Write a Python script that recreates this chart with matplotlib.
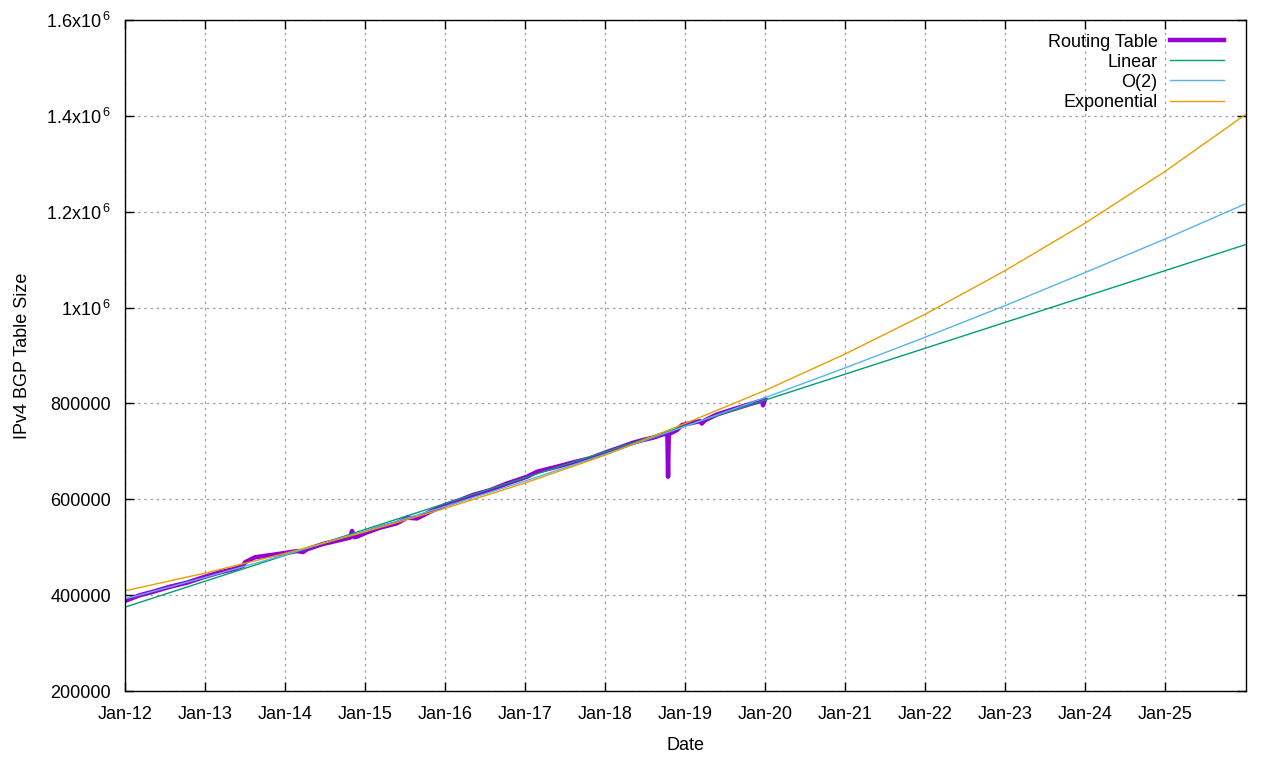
import numpy as np
import pandas as pd
import matplotlib
matplotlib.use('Agg')
import matplotlib.pyplot as plt
import matplotlib.dates as mdates

plt.rcParams['font.family'] = ['Liberation Sans', 'DejaVu Sans']
plt.rcParams['font.size'] = 13
plt.rcParams['mathtext.fontset'] = 'custom'
plt.rcParams['mathtext.rm'] = 'Liberation Sans'

# routing table size (decimal year, entries in thousands)
rt_years = [2012.000, 2012.188, 2012.350, 2012.563, 2012.775, 2013.000, 2013.188,
            2013.350, 2013.475, 2013.500, 2013.625, 2013.838, 2014.025, 2014.150,
            2014.225, 2014.275, 2014.475, 2014.688, 2014.813, 2014.838, 2014.863,
            2014.900, 2015.025, 2015.188, 2015.400, 2015.525, 2015.650, 2015.813,
            2016.000, 2016.188, 2016.350, 2016.563, 2016.775, 2017.025, 2017.150,
            2017.400, 2017.600, 2017.813, 2018.025, 2018.150, 2018.350, 2018.475,
            2018.600, 2018.725, 2018.780, 2018.788, 2018.797, 2018.900, 2018.963,
            2019.188, 2019.210, 2019.250, 2019.400, 2019.600, 2019.813, 2019.963,
            2019.975, 2020.000]
rt_size = [388, 400, 407, 417.6, 426, 438.5, 447.6,
           454, 461, 468.5, 479, 484, 488.6, 492,
           490, 495.6, 506.7, 515, 520, 534, 521,
           522, 531, 540.7, 550, 561.6, 560, 574,
           588, 598.5, 609, 619, 633, 647, 657.5,
           668, 677, 685.5, 699, 706, 718, 723.7,
           728.5, 735.5, 736, 647, 736, 744.5, 755,
           763, 758, 765, 777, 787.7, 798.7, 806,
           796, 808]

# fitted curves, read at each January (thousands)
fit_years = list(range(2012, 2027))
linear = [375, 429, 483, 537, 591, 645, 699, 753, 807, 861, 915, 969, 1023, 1077, 1131]
order2 = [392, 437, 484, 534, 585, 638, 694, 752, 812, 874, 938, 1004, 1073, 1143, 1216]
expo = [409, 446, 487, 532, 581, 634, 692, 758, 827, 903, 986, 1077, 1176, 1284, 1402]

tick_years = list(range(2012, 2026))
y_ticks = [200000, 400000, 600000, 800000, 1000000, 1200000, 1400000, 1600000]
y_labels = ['200000', '400000', '600000', '800000',
            r'1x10$^{\,6}$', r'1.2x10$^{\,6}$', r'1.4x10$^{\,6}$', r'1.6x10$^{\,6}$']


def to_dates(years):
    base = pd.Timestamp('2012-01-01')
    return [base + pd.to_timedelta((y - 2012) * 365.25, unit='D') for y in years]


fig = plt.figure(figsize=(12.8, 7.6), dpi=100)
ax = fig.add_axes([125 / 1280, 69 / 760, 1121 / 1280, 671 / 760])

ax.plot(to_dates(rt_years), np.array(rt_size) * 1000, color='#9400d3', lw=3.2,
        label='Routing Table', solid_joinstyle='round')
ax.plot(to_dates(fit_years), np.array(linear) * 1000, color='#009e73', lw=1, label='Linear')
ax.plot(to_dates(fit_years), np.array(order2) * 1000, color='#56b4e9', lw=1, label='O(2)')
ax.plot(to_dates(fit_years), np.array(expo) * 1000, color='#e69f00', lw=1, label='Exponential')

ax.set_xlim(pd.Timestamp('2012-01-01'), pd.Timestamp('2026-01-05'))
ax.set_ylim(200000, 1600000)

ax.set_xticks([pd.Timestamp(f'{y}-01-01') for y in tick_years])
ax.xaxis.set_major_formatter(mdates.DateFormatter('%b-%y'))
ax.set_yticks(y_ticks)
ax.set_yticklabels(y_labels)

ax.tick_params(direction='in', length=6.5, width=1, top=True, right=True)
ax.tick_params(axis='y', pad=10)
ax.tick_params(axis='x', pad=11)
ax.grid(True, color='#a0a0a0', linestyle=(0, (2, 3)), lw=0.9)
for s in ax.spines.values():
    s.set_linewidth(1)

ax.set_xlabel('Date', labelpad=10)
ax.set_ylabel('IPv4 BGP Table Size')
ax.yaxis.set_label_coords(-0.084, 0.5)

leg = ax.legend(loc='upper right', bbox_to_anchor=(1, 1 + 8 / 671), frameon=False,
                markerfirst=False, handlelength=3.0, labelspacing=0.17,
                borderaxespad=0.9, handletextpad=0.7, borderpad=0.3)

fig.savefig('out.png', dpi=100)
